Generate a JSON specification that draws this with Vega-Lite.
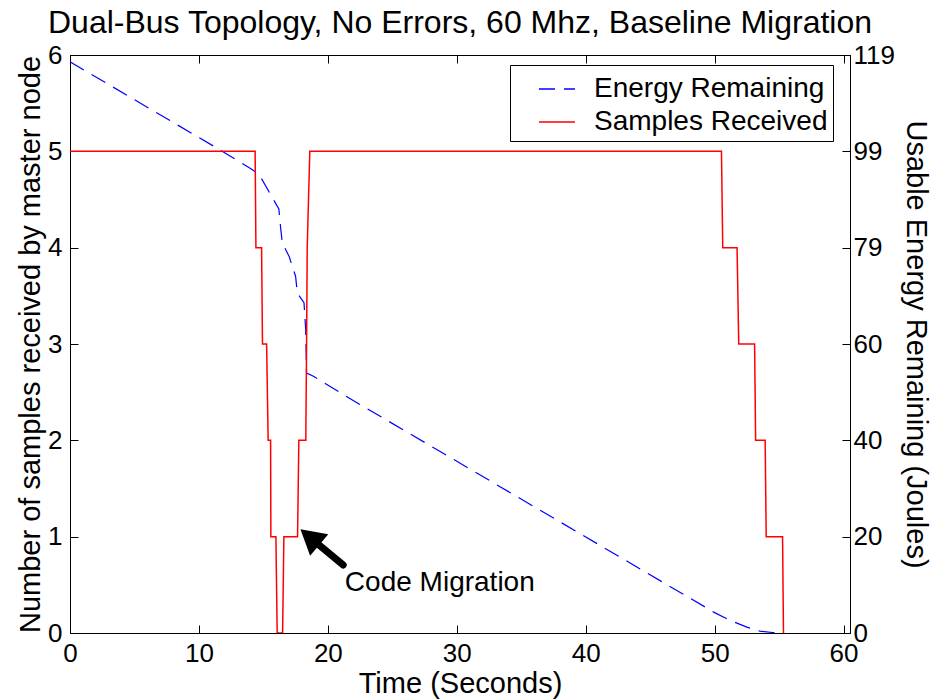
{
  "$schema": "https://vega.github.io/schema/vega-lite/v6.json",
  "width": 780,
  "height": 578,
  "autosize": {"type": "none"},
  "padding": {"left": 70, "top": 55, "right": 99, "bottom": 67},
  "background": "white",
  "title": {
    "text": "Dual-Bus Topology, No Errors, 60 Mhz, Baseline Migration",
    "fontSize": 32,
    "font": "Liberation Sans",
    "fontWeight": "normal",
    "color": "black",
    "baseline": "bottom",
    "offset": 13,
    "dy": 43,
    "anchor": "middle"
  },
  "datasets": {
    "energy": [
      {"t": 0, "e": 117.6, "series": "Energy Remaining"},
      {"t": 11.8, "e": 99.2, "series": "Energy Remaining"},
      {"t": 14.03, "e": 95.6, "series": "Energy Remaining"},
      {"t": 14.67, "e": 94.4, "series": "Energy Remaining"},
      {"t": 15.57, "e": 90.2, "series": "Energy Remaining"},
      {"t": 16.2, "e": 87.3, "series": "Energy Remaining"},
      {"t": 16.35, "e": 83.1, "series": "Energy Remaining"},
      {"t": 16.47, "e": 80.3, "series": "Energy Remaining"},
      {"t": 17.0, "e": 77.5, "series": "Energy Remaining"},
      {"t": 17.5, "e": 73.4, "series": "Energy Remaining"},
      {"t": 17.63, "e": 70.0, "series": "Energy Remaining"},
      {"t": 18.15, "e": 68.0, "series": "Energy Remaining"},
      {"t": 18.28, "e": 62.5, "series": "Energy Remaining"},
      {"t": 18.35, "e": 53.5, "series": "Energy Remaining"},
      {"t": 18.92, "e": 52.8, "series": "Energy Remaining"},
      {"t": 21.37, "e": 48.8, "series": "Energy Remaining"},
      {"t": 48.13, "e": 7.1, "series": "Energy Remaining"},
      {"t": 50.0, "e": 4.2, "series": "Energy Remaining"},
      {"t": 51.2, "e": 2.6, "series": "Energy Remaining"},
      {"t": 52.5, "e": 1.2, "series": "Energy Remaining"},
      {"t": 53.5, "e": 0.4, "series": "Energy Remaining"},
      {"t": 54.5, "e": 0.1, "series": "Energy Remaining"},
      {"t": 55.3, "e": 0, "series": "Energy Remaining"}
    ],
    "samples": [
      {"t": 0, "n": 5, "series": "Samples Received"},
      {"t": 14.36, "n": 5, "series": "Samples Received"},
      {"t": 14.42, "n": 4, "series": "Samples Received"},
      {"t": 14.86, "n": 4, "series": "Samples Received"},
      {"t": 14.93, "n": 3, "series": "Samples Received"},
      {"t": 15.25, "n": 3, "series": "Samples Received"},
      {"t": 15.37, "n": 2, "series": "Samples Received"},
      {"t": 15.56, "n": 2, "series": "Samples Received"},
      {"t": 15.58, "n": 1, "series": "Samples Received"},
      {"t": 15.97, "n": 1, "series": "Samples Received"},
      {"t": 16.07, "n": 0, "series": "Samples Received"},
      {"t": 16.49, "n": 0, "series": "Samples Received"},
      {"t": 16.59, "n": 1, "series": "Samples Received"},
      {"t": 17.65, "n": 1, "series": "Samples Received"},
      {"t": 17.75, "n": 2, "series": "Samples Received"},
      {"t": 18.29, "n": 2, "series": "Samples Received"},
      {"t": 18.35, "n": 3, "series": "Samples Received"},
      {"t": 18.4, "n": 4, "series": "Samples Received"},
      {"t": 18.6, "n": 5, "series": "Samples Received"},
      {"t": 50.53, "n": 5, "series": "Samples Received"},
      {"t": 50.63, "n": 4, "series": "Samples Received"},
      {"t": 51.74, "n": 4, "series": "Samples Received"},
      {"t": 51.87, "n": 3, "series": "Samples Received"},
      {"t": 53.1, "n": 3, "series": "Samples Received"},
      {"t": 53.18, "n": 2, "series": "Samples Received"},
      {"t": 53.92, "n": 2, "series": "Samples Received"},
      {"t": 54.0, "n": 1, "series": "Samples Received"},
      {"t": 55.27, "n": 1, "series": "Samples Received"},
      {"t": 55.34, "n": 0, "series": "Samples Received"}
    ],
    "arrowShaft": [{"t": 18.9, "n": 0.96, "t2": 21.19, "n2": 0.706}],
    "arrowHead": [{"t": 18.6, "n": 0.995}],
    "note": [{"t": 21.32, "n": 0.516, "label": "Code Migration"}]
  },
  "layer": [
    {
      "data": {"name": "energy"},
      "mark": {"type": "line", "strokeWidth": 1.2, "clip": true},
      "encoding": {
        "x": {
          "field": "t", "type": "quantitative",
          "scale": {"domain": [0, 60.5], "nice": false, "zero": false},
          "axis": {"orient": "top", "labels": false, "title": null, "values": [0, 10, 20, 30, 40, 50, 60], "tickSize": -8, "grid": false}
        },
        "y": {
          "field": "e", "type": "quantitative",
          "scale": {"domain": [0, 119], "nice": false},
          "axis": {"orient": "right", "title": "Usable Energy Remaining (Joules)", "values": [0, 19.833, 39.667, 59.5, 79.333, 99.167, 119], "format": ".0f", "tickSize": -8, "labelPadding": 11, "titlePadding": 6, "grid": false, "labelFlush": false}
        },
        "color": {
          "field": "series", "type": "nominal",
          "scale": {"domain": ["Energy Remaining", "Samples Received"], "range": ["#0000ff", "#ff0000"]},
          "legend": {"title": null, "orient": "none", "legendX": 440, "legendY": 10}
        },
        "strokeDash": {
          "field": "series", "type": "nominal",
          "scale": {"domain": ["Energy Remaining", "Samples Received"], "range": [[16, 9], [1, 0]]},
          "legend": {"title": null, "orient": "none", "legendX": 440, "legendY": 10}
        }
      }
    },
    {
      "layer": [
        {
          "data": {"name": "samples"},
          "mark": {"type": "line", "strokeWidth": 1.5, "clip": true},
          "encoding": {
            "x": {
              "field": "t", "type": "quantitative",
              "scale": {"domain": [0, 60.5], "nice": false, "zero": false},
              "axis": {"orient": "bottom", "title": "Time (Seconds)", "values": [0, 10, 20, 30, 40, 50, 60], "tickSize": -8, "labelPadding": 15, "titlePadding": 3, "grid": false, "labelFlush": false}
            },
            "y": {
              "field": "n", "type": "quantitative",
              "scale": {"domain": [0, 6], "nice": false},
              "axis": {"orient": "left", "title": "Number of samples received by master node", "values": [0, 1, 2, 3, 4, 5, 6], "format": "d", "tickSize": -8, "labelPadding": 16, "titlePadding": 2, "grid": false, "labelFlush": false}
            },
            "color": {
              "field": "series", "type": "nominal",
              "scale": {"domain": ["Energy Remaining", "Samples Received"], "range": ["#0000ff", "#ff0000"]},
              "legend": {"title": null, "orient": "none", "legendX": 440, "legendY": 10}
            },
            "strokeDash": {
              "field": "series", "type": "nominal",
              "scale": {"domain": ["Energy Remaining", "Samples Received"], "range": [[16, 9], [1, 0]]},
              "legend": {"title": null, "orient": "none", "legendX": 440, "legendY": 10}
            }
          }
        },
        {
          "data": {"name": "arrowShaft"},
          "mark": {"type": "rule", "color": "black", "strokeWidth": 7, "strokeCap": "round"},
          "encoding": {
            "x": {"field": "t", "type": "quantitative"},
            "y": {"field": "n", "type": "quantitative"},
            "x2": {"field": "t2"},
            "y2": {"field": "n2"}
          }
        },
        {
          "data": {"name": "arrowHead"},
          "mark": {"type": "point", "shape": "triangle-up", "filled": true, "color": "black", "opacity": 1, "size": 800, "angle": 310},
          "encoding": {
            "x": {"field": "t", "type": "quantitative"},
            "y": {"field": "n", "type": "quantitative"}
          }
        },
        {
          "data": {"name": "note"},
          "mark": {"type": "text", "align": "left", "baseline": "middle", "fontSize": 28, "font": "Liberation Sans", "color": "black"},
          "encoding": {
            "x": {"field": "t", "type": "quantitative"},
            "y": {"field": "n", "type": "quantitative"},
            "text": {"field": "label"}
          }
        }
      ]
    }
  ],
  "resolve": {"scale": {"y": "independent"}, "axis": {"x": "independent", "y": "independent"}},
  "config": {
    "view": {"stroke": "black", "strokeWidth": 1},
    "font": "Liberation Sans",
    "axis": {
      "labelFont": "Liberation Sans", "labelFontSize": 26, "labelColor": "black",
      "titleFont": "Liberation Sans", "titleFontSize": 29, "titleFontWeight": "normal", "titleColor": "black",
      "domainColor": "black", "tickColor": "black", "domainWidth": 1, "tickWidth": 1
    },
    "legend": {
      "labelFont": "Liberation Sans", "labelFontSize": 28, "labelColor": "black",
      "fillColor": "white", "strokeColor": "black", "padding": 5,
      "symbolType": "stroke", "symbolSize": 1296, "symbolStrokeWidth": 1.5,
      "symbolOffset": 23, "labelOffset": 18, "rowPadding": -3, "labelLimit": 400
    }
  }
}
